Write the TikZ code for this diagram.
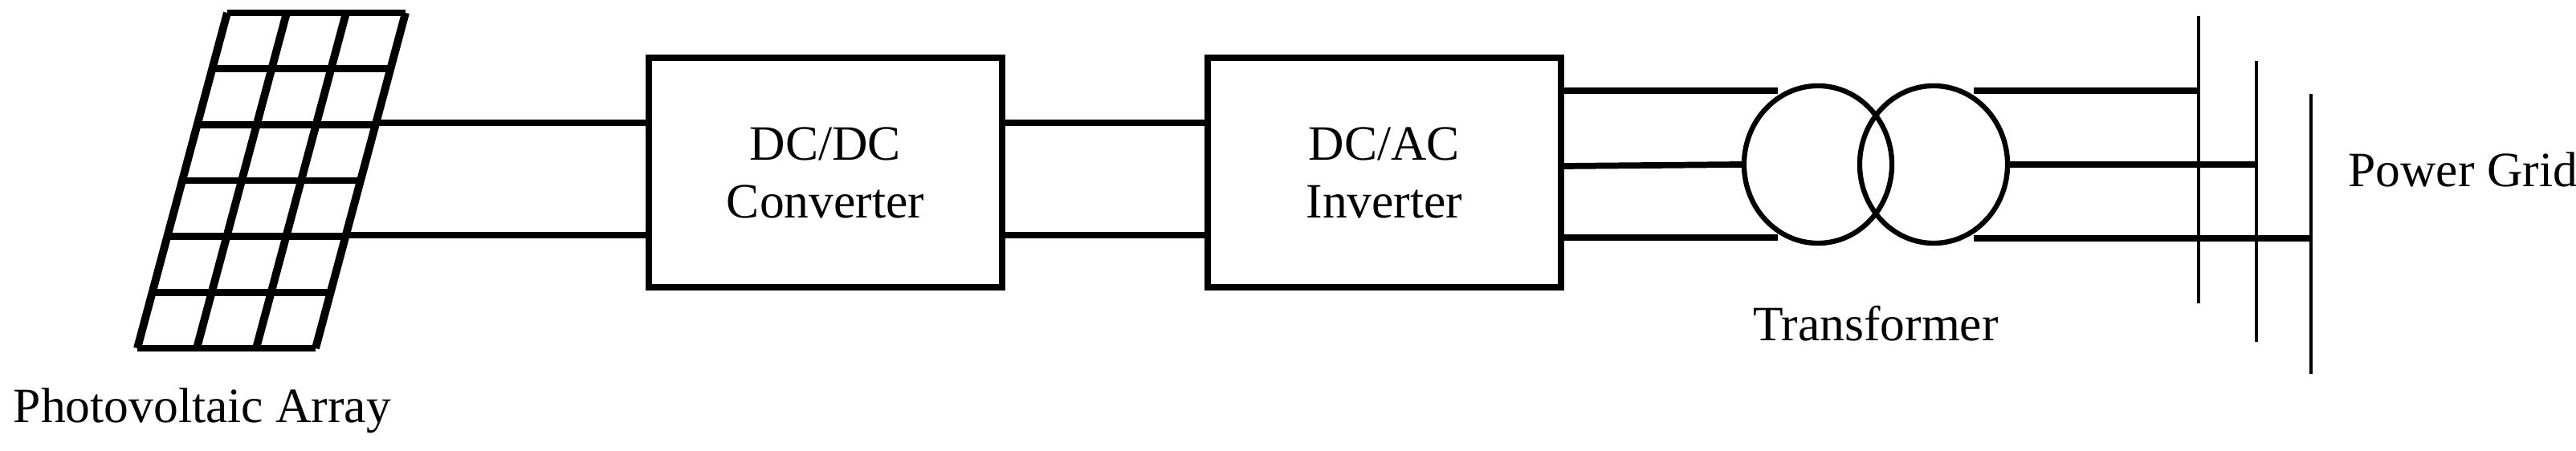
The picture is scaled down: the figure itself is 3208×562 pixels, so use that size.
\documentclass[tikz,border=0pt]{standalone}
\usepackage{fontspec}
\setmainfont{Liberation Serif}
\usetikzlibrary{shapes.geometric}
\begin{document}
\begin{tikzpicture}[x=0.01cm,y=-0.01cm,
  wire/.style={line width=2.2pt},
  blk/.style={draw,line width=2.2pt,minimum width=4.4cm,minimum height=2.86cm,align=center,font=\fontsize{17.5}{20.5}\selectfont},
  lbl/.style={font=\fontsize{17.5}{20.5}\selectfont},
  xf/.style={draw,ellipse,line width=1.8pt,minimum width=1.84cm,minimum height=1.96cm,inner sep=0pt},
  bus/.style={line width=1.4pt}]
\useasboundingbox (0,0) rectangle (3208,562);
% PV array: parallelogram, top y=16, bottom y=434
\def\pvx{171}\def\pvw{222}\def\pvs{112}
\foreach \i in {0,...,6}{
  \pgfmathsetmacro{\yy}{16+\i*418/6}
  \pgfmathsetmacro{\xx}{\pvx+\pvs*(1-\i/6)}
  \draw[line width=2.4pt] (\xx,\yy) -- ++(\pvw,0);}
\foreach \j in {0,...,3}{
  \pgfmathsetmacro{\xt}{\pvx+\pvs+\j*\pvw/3}
  \pgfmathsetmacro{\xb}{\pvx+\j*\pvw/3}
  \draw[line width=2.8pt] (\xt,16) -- (\xb,434);}
\coordinate (pv1) at ({\pvx+\pvw+\pvs*(1-137/418)},153);
\coordinate (pv2) at ({\pvx+\pvw+\pvs*(1-277/418)},293);
\node[lbl] (pvl) at (252,512) {Photovoltaic Array};
\node[blk] (dcdc) at (1028,215) {DC/DC\\Converter};
\node[blk] (dcac) at (1724,215) {DC/AC\\Inverter};
\draw[wire] (pv1) -- (pv1 -| dcdc.west);
\draw[wire] (pv2) -- (pv2 -| dcdc.west);
\draw[wire] (dcdc.east |- 0,153) -- (dcac.west |- 0,153);
\draw[wire] (dcdc.east |- 0,293) -- (dcac.west |- 0,293);
% transformer
\node[xf] (t1) at (2264,205) {};
\node[xf] (t2) at (2408,205) {};
\node[lbl] (tl) at (2336,403) {Transformer};
\draw[wire] (dcac.east |- 0,113) -- (t1.120 |- 0,113);
\draw[wire] (dcac.east |- 0,207) -- (t1.west);
\draw[wire] (dcac.east |- 0,296) -- (t1.240 |- 0,296);
% bus bars
\coordinate (b1t) at (2738,20); \coordinate (b1b) at (2738,378);
\coordinate (b2t) at (2810,76); \coordinate (b2b) at (2810,426);
\coordinate (b3t) at (2878,117); \coordinate (b3b) at (2878,466);
\draw[bus] (b1t) -- (b1b);
\draw[bus] (b2t) -- (b2b);
\draw[bus] (b3t) -- (b3b);
\draw[wire] (t2.60 |- 0,113) -- (b1t |- 0,113);
\draw[wire] (t2.east) -- (b2t |- t2.east);
\draw[wire] (t2.-60 |- 0,297) -- (b3t |- 0,297);
\node[lbl,anchor=west] (pg) at (2912,211) {Power Grid};
\end{tikzpicture}
\end{document}
